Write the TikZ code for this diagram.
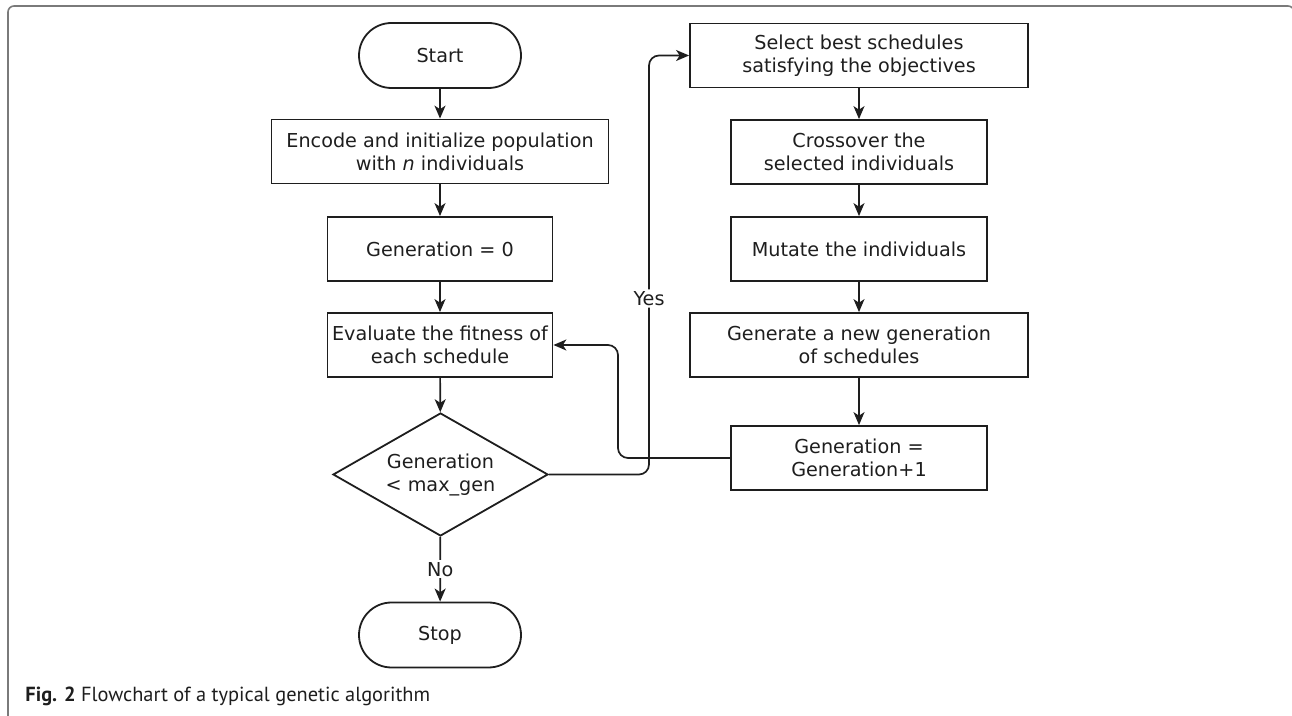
\documentclass[tikz,border=0pt]{standalone}
\usepackage{fontspec}
\setmainfont{DejaVu Sans}
\newfontfamily\capfont{PT Sans}
\usetikzlibrary{arrows.meta,shapes.geometric,shapes.misc}

\definecolor{ink}{HTML}{1E1E1E}
\definecolor{framegray}{HTML}{7A7A7A}

\tikzset{
	block/.style={draw=ink, line width=0.9pt, text=ink, align=center, inner sep=0pt,
		font=\fontsize{9.6}{11.5}\selectfont},
	terminal/.style={block, rounded rectangle, minimum width=81pt, minimum height=32.5pt},
	process/.style={block, rectangle, minimum height=32pt},
	decision/.style={block, diamond, aspect=1.75, minimum width=107.5pt, minimum height=61.5pt},
	flow/.style={draw=ink, line width=0.85pt, -{Stealth[length=6.5pt,width=5.5pt,inset=1.8pt]}},
	answer/.style={fill=white, text=ink, inner sep=1pt, font=\fontsize{9.6}{11.5}\selectfont},
}

\begin{document}
\begin{tikzpicture}[x=0.5pt, y=-0.5pt]
	\useasboundingbox (0,0) rectangle (1292,716);
	% figure frame
	\draw[framegray, line width=0.8pt, rounded corners=3pt] (8,740) -- (8,6) -- (1294,6) -- (1294,740);

	% left column
	\node[terminal] (start) at (440,55.5) {Start};
	\node[process, minimum width=168.5pt] (encode) at (440,151.5) {Encode and initialize population\\with \textit{n} individuals};
	\node[process, minimum width=112.5pt] (gen0) at (440,249) {Generation = 0};
	\node[process, minimum width=112.5pt] (eval) at (440,345) {Evaluate the fitness of\\each schedule};
	\node[decision] (dec) at (440.5,474.5) {Generation\\< max\_gen};
	\node[terminal] (stop) at (440,635) {Stop};

	% right column
	\node[process, minimum width=169pt] (select) at (859,55.5) {Select best schedules\\satisfying the objectives};
	\node[process, minimum width=128pt] (cross) at (859,152) {Crossover the\\selected individuals};
	\node[process, minimum width=128pt] (mutate) at (859,249) {Mutate the individuals};
	\node[process, minimum width=169pt] (newgen) at (859,345) {Generate a new generation\\of schedules};
	\node[process, minimum width=128pt] (incr) at (859,458) {Generation =\\Generation+1};

	\coordinate (yescol) at (649,474.5);
	\coordinate (backcol) at (618,458);

	% connectors
	\draw[flow] (start) -- (encode);
	\draw[flow] (encode) -- (gen0);
	\draw[flow] (gen0) -- (eval);
	\draw[flow] (eval) -- (dec);
	\draw[flow] (dec) -- node[answer] {No} (stop);
	\draw[flow, rounded corners=5pt] (dec.east) -- (yescol) -- node[answer, pos=0.42] {Yes} (yescol |- select.west) -- (select.west);
	\draw[flow] (select) -- (cross);
	\draw[flow] (cross) -- (mutate);
	\draw[flow] (mutate) -- (newgen);
	\draw[flow] (newgen) -- (incr);
	\draw[flow, rounded corners=5pt] (incr.west) -- (backcol) -- (backcol |- eval.east) -- (eval.east);

	% caption
	\node[anchor=base west, inner sep=0pt, text=ink, font=\capfont\fontsize{10.2}{12}\selectfont] (caption) at (25,702) {\textbf{Fig. 2} Flowchart of a typical genetic algorithm};
\end{tikzpicture}
\end{document}
